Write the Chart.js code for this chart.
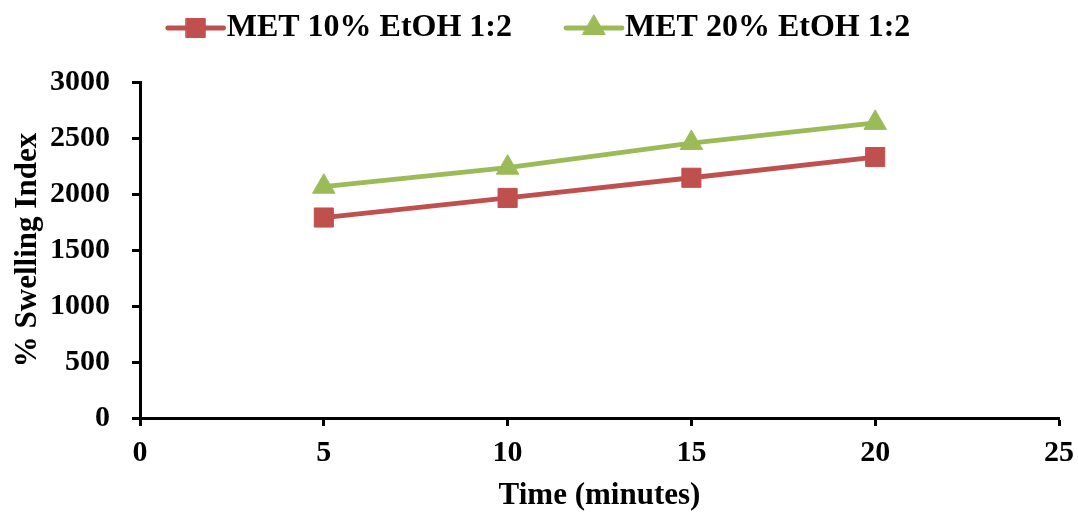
<!DOCTYPE html>
<html lang="en">
  <head>
    <meta charset="UTF-8" />
    <title>% Swelling Index</title>
    <script src="https://cdn.jsdelivr.net/npm/chart.js"></script>
    <style>
      html,
      body {
        margin: 0;
        padding: 0;
        background: #fff;
      }
      #wrap {
        width: 1078px;
        height: 515px;
      }
    </style>
  </head>
  <body>
    <div id="wrap"><canvas id="swellChart"></canvas></div>
    <script>
      // swelling index over time, two formulations
      const times = [5, 10, 15, 20];
      const met10 = [1790, 1965, 2145, 2330];
      const met20 = [2065, 2235, 2455, 2635];
      const seriesNames = ["MET 10% EtOH 1:2", "MET 20% EtOH 1:2"];
      const xTicks = [0, 5, 10, 15, 20, 25];
      const yTicks = [0, 500, 1000, 1500, 2000, 2500, 3000];

      const FONT = "'Liberation Serif', 'Times New Roman', serif";
      const RED = "#C0504D";
      const GREEN = "#9BBB59";
      const tickFont = { family: FONT, size: 30, weight: "bold" };
      const titleFont = { family: FONT, size: 31, weight: "bold" };

      const toPoints = (vals) => vals.map((v, i) => ({ x: times[i], y: v }));

      // legend drawn as line + marker, like an office chart
      const lineLegend = {
        id: "lineLegend",
        afterDraw(chart, args, opts) {
          const ctx = chart.ctx;
          ctx.save();
          ctx.font = `bold ${opts.size}px ${FONT}`;
          const items = chart.data.datasets.map((ds) => ({
            ds,
            w: opts.sample + opts.textGap + ctx.measureText(ds.label).width,
          }));
          const total =
            items.reduce((s, it) => s + it.w, 0) + opts.itemGap * (items.length - 1);
          let x = (chart.width - total) / 2 + opts.shiftX;
          const y = opts.y;
          items.forEach(({ ds, w }) => {
            ctx.strokeStyle = ds.borderColor;
            ctx.lineWidth = ds.borderWidth;
            ctx.lineCap = "round";
            ctx.beginPath();
            ctx.moveTo(x, y);
            ctx.lineTo(x + opts.sample, y);
            ctx.stroke();

            ctx.fillStyle = ds.pointBackgroundColor;
            ctx.strokeStyle = ds.pointBorderColor;
            ctx.lineWidth = ds.pointBorderWidth;
            Chart.helpers.drawPoint(
              ctx,
              {
                pointStyle: ds.pointStyle,
                radius: ds.pointRadius,
                borderWidth: ds.pointBorderWidth,
                rotation: 0,
              },
              x + opts.sample / 2,
              y
            );

            ctx.fillStyle = "#000";
            ctx.textAlign = "left";
            ctx.textBaseline = "middle";
            ctx.fillText(ds.label, x + opts.sample + opts.textGap, y);
            x += w + opts.itemGap;
          });
          ctx.restore();
        },
      };

      const ctx = document.getElementById("swellChart").getContext("2d");
      const chart = new Chart(ctx, {
        type: "line",
        data: {
          datasets: [
            {
              label: seriesNames[0],
              data: toPoints(met10),
              borderColor: RED,
              backgroundColor: RED,
              borderWidth: 4.8,
              pointStyle: "rect",
              pointRadius: 13.5,
              pointBackgroundColor: RED,
              pointBorderColor: RED,
              pointBorderWidth: 1,
              tension: 0,
            },
            {
              label: seriesNames[1],
              data: toPoints(met20),
              borderColor: GREEN,
              backgroundColor: GREEN,
              borderWidth: 4.8,
              pointStyle: "triangle",
              pointRadius: 13,
              pointBackgroundColor: GREEN,
              pointBorderColor: GREEN,
              pointBorderWidth: 1,
              tension: 0,
            },
          ],
        },
        options: {
          responsive: true,
          maintainAspectRatio: false,
          animation: false,
          layout: { padding: { top: 82, right: 0, bottom: 0, left: 0 } },
          plugins: {
            legend: { display: false },
            tooltip: { enabled: false },
            lineLegend: { y: 28, size: 32, sample: 56, textGap: 3, itemGap: 54, shiftX: 0 },
          },
          scales: {
            x: {
              type: "linear",
              min: xTicks[0],
              max: xTicks[xTicks.length - 1],
              afterFit: (scale) => {
                scale.height = 97;
                scale.paddingRight = 19;
              },
              ticks: {
                stepSize: xTicks[1] - xTicks[0],
                color: "#000",
                padding: 9,
                font: tickFont,
              },
              grid: {
                drawOnChartArea: false,
                tickLength: 8,
                tickWidth: 3,
                tickColor: "#000",
              },
              border: { color: "#000", width: 3 },
              title: {
                display: true,
                text: "Time (minutes)",
                color: "#000",
                padding: { top: 0, bottom: 0 },
                font: titleFont,
              },
            },
            y: {
              min: yTicks[0],
              max: yTicks[yTicks.length - 1],
              afterFit: (scale) => {
                scale.width = 140;
              },
              ticks: {
                stepSize: yTicks[1] - yTicks[0],
                color: "#000",
                padding: 22,
                font: tickFont,
                callback: (v) => String(v),
              },
              grid: {
                drawOnChartArea: false,
                tickLength: 8,
                tickWidth: 3,
                tickColor: "#000",
              },
              border: { color: "#000", width: 3 },
              title: {
                display: true,
                text: "% Swelling Index",
                color: "#000",
                padding: { top: 9, bottom: 9 },
                font: titleFont,
              },
            },
          },
        },
        plugins: [lineLegend],
      });
    </script>
  </body>
</html>
